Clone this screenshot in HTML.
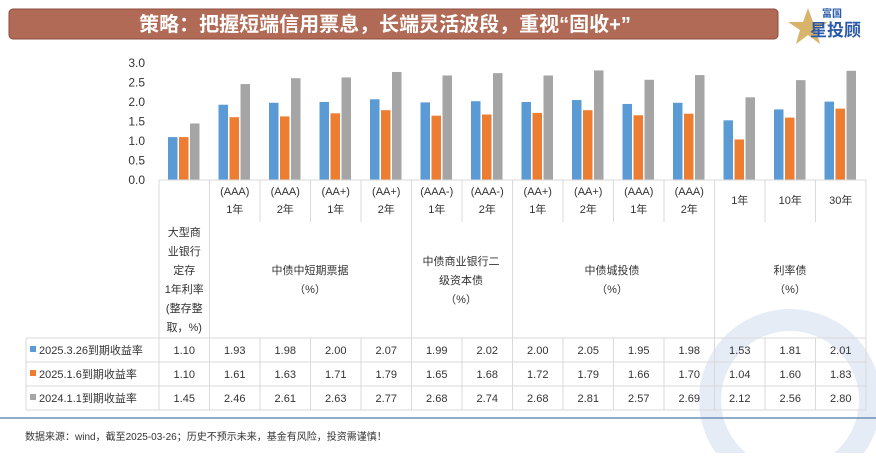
<!DOCTYPE html>
<html><head><meta charset="utf-8"><style>
body{margin:0;width:876px;height:453px;background:#fff;overflow:hidden;font-family:"Liberation Sans","Noto Sans CJK SC",sans-serif}
svg text{font-family:"Liberation Sans","Noto Sans CJK SC",sans-serif}
</style></head><body>
<svg id="c" width="876" height="453" xmlns="http://www.w3.org/2000/svg">
<circle cx="790" cy="400" r="80" fill="none" stroke="#e6ecf5" stroke-width="22"/>
<rect x="9" y="9" width="769" height="30" rx="4" fill="#b06a55" stroke="#8c4e3c" stroke-width="1"/>
<text x="385" y="31" font-size="20" font-weight="bold" fill="#fff" text-anchor="middle">策略：把握短端信用票息，长端灵活波段，重视“固收+”</text>
<polygon points="808,8 813,22 828,22 816,30 820,44 808,35 796,44 800,30 788,22 803,22" fill="#d9b36a"/>
<text x="822" y="17" font-size="10" font-weight="bold" fill="#2a5aa8">富国</text>
<text x="810" y="36" font-size="17" font-weight="bold" fill="#2a5aa8">星投顾</text>
<g id="plot"></g>
<g id="table"></g>
<line x1="0" y1="418" x2="876" y2="418" stroke="#6f8fb8" stroke-width="1.5"/>
<text x="25" y="440" font-size="10" fill="#333">数据来源：wind，截至2025-03-26；历史不预示未来，基金有风险，投资需谨慎！</text>
</svg>
<script>
const categories=["大型商业银行定存","(AAA) 1年","(AAA) 2年","(AA+) 1年","(AA+) 2年","(AAA-) 1年","(AAA-) 2年","(AA+) 1年","(AA+) 2年","(AAA) 1年","(AAA) 2年","1年","10年","30年"];
const series1=[1.10,1.93,1.98,2.00,2.07,1.99,2.02,2.00,2.05,1.95,1.98,1.53,1.81,2.01];
const series2=[1.10,1.61,1.63,1.71,1.79,1.65,1.68,1.72,1.79,1.66,1.70,1.04,1.60,1.83];
const series3=[1.45,2.46,2.61,2.63,2.77,2.68,2.74,2.68,2.81,2.57,2.69,2.12,2.56,2.80];
const seriesNames=["2025.3.26到期收益率","2025.1.6到期收益率","2024.1.1到期收益率"];
const yTicks=[0,0.5,1.0,1.5,2.0,2.5,3.0];
const NS="http://www.w3.org/2000/svg";
const X0=159,CW=50.5,Y0=180,YS=39;
const colors=["#5b9bd5","#ed7d31","#a5a5a5"];
const yScale=v=>Y0-v*YS;
const xCat=i=>X0+i*CW;
function mk(t,a,p){const e=document.createElementNS(NS,t);for(const k in a)e.setAttribute(k,a[k]);p.appendChild(e);return e;}
const plot=document.getElementById('plot'),table=document.getElementById('table');
yTicks.forEach(v=>{const t=mk('text',{x:145,y:yScale(v)+4,'font-size':12,fill:'#333','text-anchor':'end'},plot);t.textContent=v.toFixed(1);

});
[series1,series2,series3].forEach((s,k)=>{s.forEach((v,i)=>{const r=mk('rect',{x:xCat(i)+9+k*11,y:yScale(v),width:9.5,height:v*YS,fill:colors[k]},plot);

});});
const G='#d9d9d9';
// table grid
const R=X0+14*CW;
mk('line',{x1:X0,y1:Y0,x2:R,y2:Y0,stroke:G},table);
[338,362,386,410].forEach(y=>mk('line',{x1:26,y1:y,x2:R,y2:y,stroke:G},table));
mk('line',{x1:26,y1:338,x2:26,y2:410,stroke:G},table);
for(let i=0;i<=14;i++){const full=[0,1,5,7,11,14].includes(i);mk('line',{x1:xCat(i),y1:Y0,x2:xCat(i),y2:full?410:222,stroke:G},table);
if(!full)mk('line',{x1:xCat(i),y1:338,x2:xCat(i),y2:410,stroke:G},table);}
function txt(x,y,s,name,anchor){const t=mk('text',{x:x,y:y,'font-size':11,fill:'#333','text-anchor':anchor||'middle'},table);t.textContent=s;

return t;}
for(let i=1;i<14;i++){const c=xCat(i)+CW/2;const p=categories[i].split(' ');
if(p.length==2){txt(c,195,p[0],'x-label');txt(c,213,p[1],'x-label');}else txt(c,204,p[0],'x-label');}
["大型商","业银行","定存","1年利率","(整存整","取，%)"].forEach((s,j)=>txt(xCat(0)+CW/2,236+j*19,s,'x-label'));
txt(310,274,"中债中短期票据",'group-label');txt(310,293,"（%）",'group-label');
txt(461,265,"中债商业银行二",'group-label');txt(461,284,"级资本债",'group-label');txt(461,303,"（%）",'group-label');
txt(612,274,"中债城投债",'group-label');txt(612,293,"（%）",'group-label');
txt(790,274,"利率债",'group-label');txt(790,293,"（%）",'group-label');
[series1,series2,series3].forEach((s,k)=>{const y=338+k*24;
const sw=mk('rect',{x:30,y:y+8,width:6,height:6,fill:colors[k]},table);


txt(39,y+16,seriesNames[k],'legend-entry','start');
s.forEach((v,i)=>txt(xCat(i)+CW/2,y+16,v.toFixed(2),'table-value'));});
</script>
</body></html>
